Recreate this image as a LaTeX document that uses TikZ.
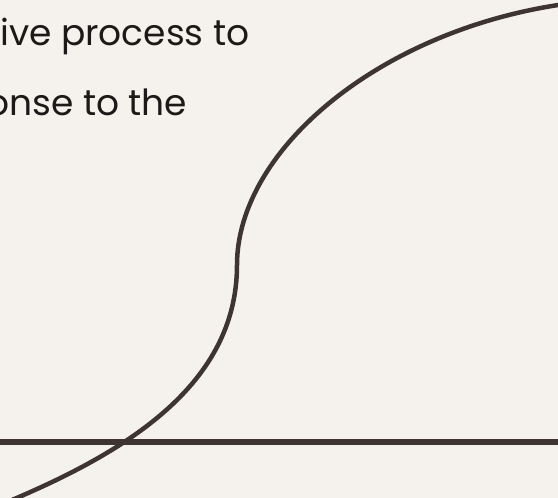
\documentclass[tikz,border=0pt]{standalone}
\usepackage{fontspec}
\setmainfont{Poppins}
\usepackage{xcolor}
\usetikzlibrary{positioning}
\definecolor{paper}{HTML}{F5F2ED}
\definecolor{ink}{HTML}{3E3533}
\definecolor{textink}{HTML}{1C1A19}
\tikzset{
    caption/.style={anchor=base west, inner sep=0pt, text=textink, font=\fontsize{36}{40}\selectfont},
    scurve/.style={draw=ink, line width=4.5pt},
    baseline/.style={draw=ink, line width=5.5pt},
}

\begin{document}
\begin{tikzpicture}[x=1pt, y=-1pt]

% === FRAME ===
\useasboundingbox (0,0) rectangle (558,498);
\fill[paper] (0,0) rectangle (558,498);
\clip (0,0) rectangle (558,498);

% === TEXT ===
\node[caption] (lineone) at (0,45) {ive process to};
\node[caption] (linetwo) at (-14,115) {onse to the};

% === AXIS ===
\coordinate (axisl) at (-5,442);
\coordinate (axisr) at (565,442);
\draw[baseline] (axisl) -- (axisr);

% === CURVE ===
\coordinate (cstart) at (12,500);
\coordinate (cturn) at (237,265);
\coordinate (cend) at (565,4);
\draw[scurve] (cstart) .. controls (125,452) and (237,385) .. (cturn)
    .. controls (237,150) and (380,30) .. (cend);

\end{tikzpicture}
\end{document}
